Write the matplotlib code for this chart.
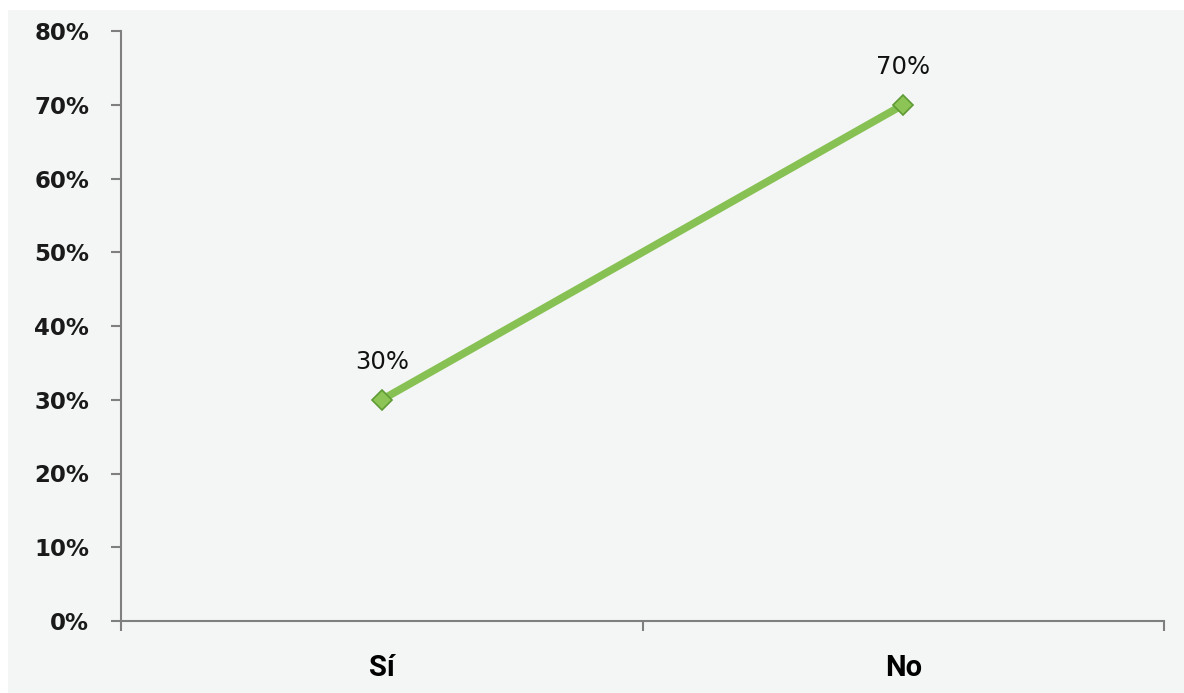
import matplotlib.pyplot as plt
from matplotlib.ticker import FuncFormatter

categories = ["Sí", "No"]
values = [30, 70]
y_ticks = [0, 10, 20, 30, 40, 50, 60, 70, 80]

plt.rcParams["font.family"] = ["DejaVu Sans"]

fig = plt.figure(figsize=(11.84, 6.93), dpi=100, facecolor="white")
# light grey chart area inside a thin white border
fig.patches.append(plt.Rectangle((8 / 1184, 0), 1 - 8 / 1184, 1 - 10 / 693,
                                 transform=fig.transFigure, facecolor="#f4f6f6",
                                 edgecolor="none", zorder=-10))
ax = fig.add_axes([121 / 1184, 1 - 621 / 693, (1164 - 121) / 1184, (621 - 31) / 693])
ax.set_facecolor("#f4f6f6")

xs = [i + 0.5 for i in range(len(categories))]
ax.plot(xs, values, color="#88c153", lw=5.5, solid_capstyle="butt",
        marker="D", markersize=10, markerfacecolor="#8cc555",
        markeredgecolor="#5f9a35", markeredgewidth=1.2, zorder=3)

for x, v in zip(xs, values):
    ax.annotate(f"{v}%", (x, v), xytext=(0, 27), textcoords="offset points",
                ha="center", va="center", fontsize=17.5, color="#111111")

ax.set_xlim(0, len(categories))
ax.set_ylim(0, 80)
ax.set_yticks(y_ticks)
ax.yaxis.set_major_formatter(FuncFormatter(lambda v, p: f"{v:.0f}%"))

ax.set_xticks(range(len(categories) + 1))
ax.set_xticklabels([])
ax.set_xticks(xs, minor=True)
ax.set_xticklabels(categories, minor=True, fontsize=21, fontweight="bold",
                   family=["Roboto", "DejaVu Sans"])
ax.tick_params(axis="x", which="minor", length=0, pad=24)
ax.tick_params(axis="x", which="major", length=7, width=1.5, color="#7f7f7f")
ax.tick_params(axis="y", length=7, width=1.5, color="#7f7f7f", pad=16,
               labelsize=16.5, labelcolor="#1a1a1a")
for lab in ax.get_yticklabels():
    lab.set_fontweight("bold")

for s in ["top", "right"]:
    ax.spines[s].set_visible(False)
for s in ["left", "bottom"]:
    ax.spines[s].set_color("#7f7f7f")
    ax.spines[s].set_linewidth(1.5)

fig.savefig("out.png", dpi=100, facecolor="white")
